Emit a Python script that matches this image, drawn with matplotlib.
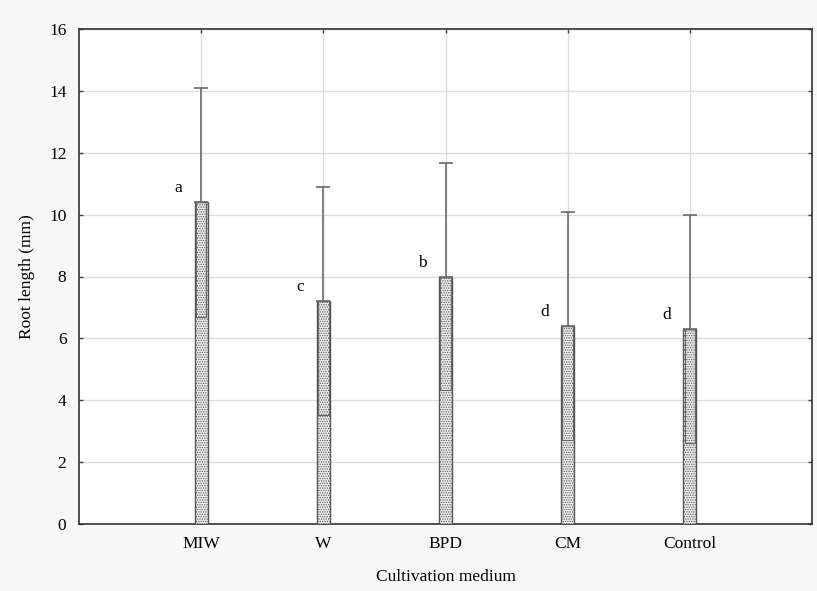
import numpy as np
import matplotlib.pyplot as plt

# root length per cultivation medium (mean +/- SD) and significance letters
media = ['MIW', 'W', 'BPD', 'CM', 'Control']
means = [10.4, 7.2, 8.0, 6.4, 6.3]
sds = [3.7, 3.68, 3.68, 3.7, 3.68]
letters = ['a', 'c', 'b', 'd', 'd']

plt.rcParams['font.family'] = ['Liberation Serif', 'DejaVu Serif']
plt.rcParams['hatch.color'] = '#9a9a9a'
plt.rcParams['hatch.linewidth'] = 0.6

fig = plt.figure(figsize=(8.17, 5.91), dpi=100, facecolor='#f8f8f8')
ax = fig.add_axes([79/817, 1 - 524/591, 733/817, 495/591])
ax.set_facecolor('white')

x = np.arange(len(media))
w = 0.105

ax.bar(x, means, width=w, color='#ececec', edgecolor='#555555',
       linewidth=1.0, hatch='.......', zorder=3)
# lower half of the SD drawn as an outlined box inside the bar
lower = np.array(means) - np.array(sds)
ax.bar(x, sds, bottom=lower, width=w * 0.82, fill=False,
       edgecolor='#666666', linewidth=0.8, zorder=4)
ax.errorbar(x, means, yerr=[np.zeros(len(x)), sds], fmt='none',
            ecolor='#6a6a6a', elinewidth=1.2, capsize=5, capthick=1.2, zorder=4)

for xi, m, lab in zip(x, means, letters):
    ax.text(xi - 0.19, m + 0.45, lab, ha='center', va='center', fontsize=12.5)

ax.set_xlim(-1, 5)
ax.set_ylim(0, 16)
ax.set_yticks(np.arange(0, 17, 2))
ax.set_xticks(x)
ax.set_xticklabels(media)
ax.grid(True, color='#dcdcdc', linewidth=1.0, zorder=0)
ax.set_axisbelow(True)
ax.tick_params(direction='in', length=3, width=1, labelsize=12.5, color='#444444',
               top=True, right=True, pad=9)
for sp in ax.spines.values():
    sp.set_color('#333333')
    sp.set_linewidth(1.2)

ax.set_xlabel('Cultivation medium', fontsize=12.5, labelpad=12)
ax.set_ylabel('Root length (mm)', fontsize=12.5, labelpad=10)

fig.savefig('out.png', dpi=100, facecolor=fig.get_facecolor())
